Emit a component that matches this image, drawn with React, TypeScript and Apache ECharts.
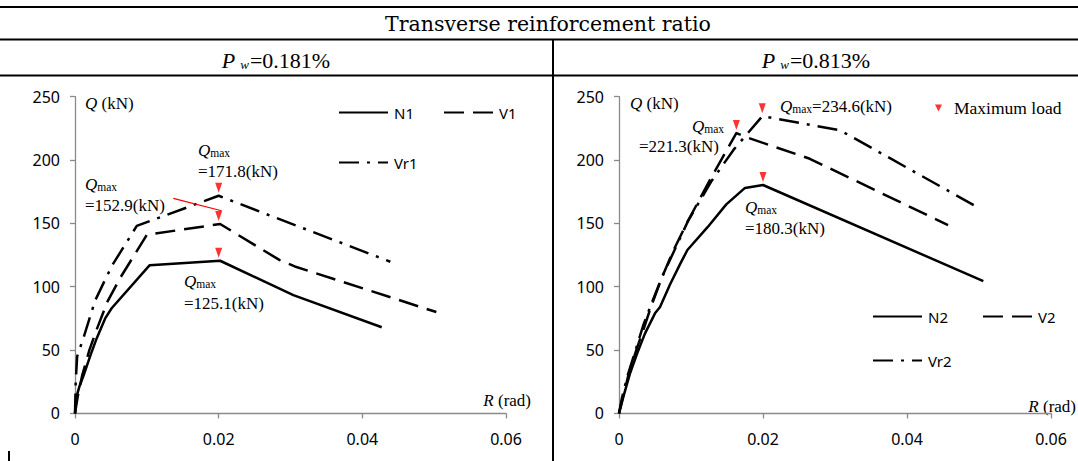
import React, { useEffect, useRef } from "react";
import * as echarts from "echarts";

// ---- data ----
const xTickLabels = ["0", "0.02", "0.04", "0.06"];
const yTickLabels = ["0", "50", "100", "150", "200", "250"];

const namesLeft = ["N1", "V1", "Vr1"];
const namesRight = ["N2", "V2", "Vr2"];

const N1 = [[0, 0], [0.0002, 13], [0.0006, 21], [0.0012, 30], [0.0021, 45], [0.003, 59], [0.0042, 75], [0.0051, 83], [0.0104, 117], [0.0202, 120.5], [0.0304, 93.4], [0.0427, 68]];
const V1 = [[0, 0], [0.0004, 14], [0.001, 30], [0.002, 50], [0.003, 66], [0.0045, 88], [0.0063, 107], [0.01, 141], [0.0202, 149.5], [0.0285, 121], [0.0306, 116], [0.0503, 80]];
const Vr1 = [[0, 0], [0.0001, 25], [0.0003, 45], [0.0012, 60], [0.0028, 89], [0.0044, 108], [0.0053, 118], [0.0086, 148], [0.02, 171.8], [0.0439, 119.7]];

const N2 = [[0, 0], [0.0006, 13], [0.0015, 31], [0.0025, 47], [0.0036, 63], [0.005, 79], [0.0057, 84], [0.0071, 102], [0.0085, 118], [0.0095, 129], [0.0123, 147], [0.0149, 165], [0.0175, 178], [0.02, 180.3], [0.0506, 104.4]];
const V2 = [[0, 0], [0.0005, 12], [0.0013, 30], [0.0024, 50], [0.0035, 68], [0.0045, 85], [0.0058, 105], [0.0075, 128], [0.0094, 150], [0.0126, 184], [0.0163, 221.3], [0.0177, 218], [0.0265, 201], [0.0457, 148.6]];
const Vr2 = [[0, 0], [0.0004, 12], [0.0012, 30], [0.0023, 50], [0.0034, 70], [0.0046, 88], [0.006, 108], [0.0078, 130], [0.0096, 152], [0.0128, 183], [0.0159, 208], [0.0199, 234.6], [0.0307, 223.5], [0.0501, 161.8]];

const maxLoadLeft = [[0.02, 171.8], [0.02, 149.5], [0.02, 120.5]];
const maxLoadRight = [[0.0163, 221.3], [0.0199, 234.6], [0.02, 180.3]];
const leaderLeft = [[0.01368, 169.7], [0.0204, 160]];

const headerTitle = "Transverse reinforcement ratio";
const ratioLeft = "0.181%";
const ratioRight = "0.813%";

// ---- styles ----
const SANS = "Noto Sans";
const SERIF = "Liberation Serif";
const HEAD = "DejaVu Serif";
const AXIS_GREY = "#8a8a8a";
const DASH = [20, 9];
const DASHDOT = [20, 8, 3, 8];
const TRI = "path://M0,0L10,0L5,10Z";

function lineSeries(name: string, data: number[][], idx: number, type: any) {
  return {
    type: "line",
    name,
    data,
    xAxisIndex: idx,
    yAxisIndex: idx,
    symbol: "none",
    showSymbol: false,
    silent: true,
    lineStyle: { color: "#000", width: 2.5, type, cap: "butt", join: "round" },
    itemStyle: { color: "#000" },
    z: 2,
  };
}

function markerSeries(data: number[][], idx: number) {
  return {
    type: "scatter",
    name: "Maximum load",
    data,
    xAxisIndex: idx,
    yAxisIndex: idx,
    symbol: TRI,
    symbolSize: [7, 10],
    symbolOffset: [0, -8],
    itemStyle: { color: "#ff0000" },
    silent: true,
    z: 5,
  };
}

function xAxis(i: number) {
  return {
    type: "value",
    gridIndex: i,
    min: 0,
    max: 0.06,
    interval: 0.02,
    axisLine: { show: true, onZero: false, lineStyle: { color: AXIS_GREY, width: 1.3 } },
    axisTick: { show: true, length: 5, lineStyle: { color: AXIS_GREY, width: 1.3 } },
    splitLine: { show: false },
    axisLabel: {
      margin: 18,
      color: "#000",
      fontFamily: SANS,
      fontSize: 16,
      formatter: (v: number) => xTickLabels[Math.round(v / 0.02)] ?? "",
    },
  };
}

function yAxis(i: number) {
  return {
    type: "value",
    gridIndex: i,
    min: 0,
    max: 250,
    interval: 50,
    axisLine: { show: true, onZero: false, lineStyle: { color: AXIS_GREY, width: 1.3 } },
    axisTick: { show: true, length: 5, lineStyle: { color: AXIS_GREY, width: 1.3 } },
    splitLine: { show: false },
    axisLabel: {
      margin: 15,
      color: "#000",
      fontFamily: SANS,
      fontSize: 16,
      formatter: (v: number) => yTickLabels[Math.round(v / 50)] ?? "",
    },
  };
}

const legendCommon = {
  orient: "horizontal",
  padding: 0,
  itemWidth: 49,
  itemHeight: 14,
  itemGap: 0,
  selectedMode: false,
  itemStyle: { color: "rgba(0,0,0,0)", borderWidth: 0, opacity: 0 },
  textStyle: { fontFamily: SANS, fontSize: 15, color: "#000", padding: [0, 0, 0, 1] },
};

function hline(x1: number, x2: number, y: number, w = 2) {
  return { type: "line", silent: true, shape: { x1, y1: y, x2, y2: y }, style: { stroke: "#000", lineWidth: w } };
}
function vline(x: number, y1: number, y2: number, w = 2) {
  return { type: "line", silent: true, shape: { x1: x, y1, x2: x, y2 }, style: { stroke: "#000", lineWidth: w } };
}

const annRich = {
  q: { fontFamily: SERIF, fontSize: 17, fontStyle: "italic", fill: "#000", lineHeight: 20, verticalAlign: "bottom" },
  m: { fontFamily: SERIF, fontSize: 11.5, fill: "#000", lineHeight: 15, verticalAlign: "bottom" },
  n: { fontFamily: SERIF, fontSize: 17, fill: "#000", lineHeight: 20, verticalAlign: "bottom" },
};

function rtext(text: string, x: number, y: number, rich: any, align = "left") {
  return {
    type: "text",
    silent: true,
    x,
    y,
    style: { text, rich, align, verticalAlign: "middle", fill: "#000" },
  };
}

const headRich = {
  p: { fontFamily: SERIF, fontSize: 22, fontStyle: "italic", fill: "#000", lineHeight: 26, verticalAlign: "bottom" },
  w: { fontFamily: SERIF, fontSize: 13, fontStyle: "italic", fill: "#000", lineHeight: 15, verticalAlign: "bottom", padding: [0, 1, 0, 5] },
  n: { fontFamily: SERIF, fontSize: 22, fill: "#000", lineHeight: 26, verticalAlign: "bottom" },
};

export default function App() {
  const ref = useRef<HTMLDivElement>(null);
  useEffect(() => {
    if (!ref.current) return;
    const chart = echarts.init(ref.current, null, { renderer: "svg" });
    const option: any = {
      animation: false,
      backgroundColor: "#fff",
      grid: [
        { left: 75, top: 96.7, width: 431, height: 316.7, outerBoundsMode: "none" },
        { left: 619, top: 96.7, width: 432, height: 316.7, outerBoundsMode: "none" },
      ],
      xAxis: [xAxis(0), xAxis(1)],
      yAxis: [yAxis(0), yAxis(1)],
      legend: [
        { ...legendCommon, data: [namesLeft[0]], left: 338, top: 105 },
        { ...legendCommon, data: [namesLeft[1]], left: 443, top: 105 },
        { ...legendCommon, data: [namesLeft[2]], left: 338, top: 155 },
        { ...legendCommon, data: [namesRight[0]], left: 872, top: 309 },
        { ...legendCommon, data: [namesRight[1]], left: 982, top: 309 },
        { ...legendCommon, data: [namesRight[2]], left: 872, top: 353 },
        {
          ...legendCommon,
          data: ["Maximum load"],
          left: 935,
          top: 99,
          icon: TRI,
          itemWidth: 7,
          itemHeight: 8,
          itemStyle: { color: "#ff0000" },
          textStyle: { fontFamily: SERIF, fontSize: 17.5, color: "#000", padding: [0, 0, 0, 7] },
        },
      ],
      series: [
        lineSeries(namesLeft[0], N1, 0, "solid"),
        lineSeries(namesLeft[1], V1, 0, DASH),
        lineSeries(namesLeft[2], Vr1, 0, DASHDOT),
        lineSeries(namesRight[0], N2, 1, "solid"),
        lineSeries(namesRight[1], V2, 1, DASH),
        lineSeries(namesRight[2], Vr2, 1, DASHDOT),
        {
          type: "line",
          name: "leader",
          data: leaderLeft,
          xAxisIndex: 0,
          yAxisIndex: 0,
          symbol: "none",
          silent: true,
          lineStyle: { color: "#ff0000", width: 1.2 },
          z: 4,
        },
        markerSeries(maxLoadLeft, 0),
        markerSeries(maxLoadRight, 1),
      ],
      graphic: [
        hline(0, 1078, 7, 2),
        hline(0, 1078, 39.5, 2),
        hline(0, 1078, 75.5, 2),
        vline(553, 40, 461, 2),
        vline(9, 451, 461, 2),
        {
          type: "text",
          silent: true,
          x: 548,
          y: 24,
          style: { text: headerTitle, font: `20.5px "${HEAD}"`, fill: "#000", align: "center", verticalAlign: "middle" },
        },
        rtext(`{p|P}{w|w}{n|=${ratioLeft}}`, 276, 58, headRich, "center"),
        rtext(`{p|P}{w|w}{n|=${ratioRight}}`, 816, 58, headRich, "center"),
        // axis names
        rtext("{q|Q}{n| (kN)}", 85, 102, annRich),
        rtext("{q|Q}{n| (kN)}", 630, 102, annRich),
        rtext("{q|R}{n| (rad)}", 531, 399, annRich, "right"),
        rtext("{q|R}{n| (rad)}", 1076, 405, annRich, "right"),
        // annotations left
        rtext("{q|Q}{m|max}", 198, 149, annRich),
        rtext("{n|=171.8(kN)}", 198, 169.5, annRich),
        rtext("{q|Q}{m|max}", 85, 183, annRich),
        rtext("{n|=152.9(kN)}", 85, 203.5, annRich),
        rtext("{q|Q}{m|max}", 184, 280, annRich),
        rtext("{n|=125.1(kN)}", 184, 301.5, annRich),
        // annotations right
        rtext("{q|Q}{m|max}", 692, 125, annRich),
        rtext("{n|=221.3(kN)}", 639, 145, annRich),
        rtext("{q|Q}{m|max}{n|=234.6(kN)}", 780, 105, annRich),
        rtext("{q|Q}{m|max}", 745, 206, annRich),
        rtext("{n|=180.3(kN)}", 745, 226.5, annRich),
      ],
    };
    chart.setOption(option);
    return () => chart.dispose();
  }, []);
  return (
    <div
      ref={ref}
      style={{ position: "absolute", left: 0, top: 0, width: 1078, height: 461, background: "#fff" }}
    />
  );
}
